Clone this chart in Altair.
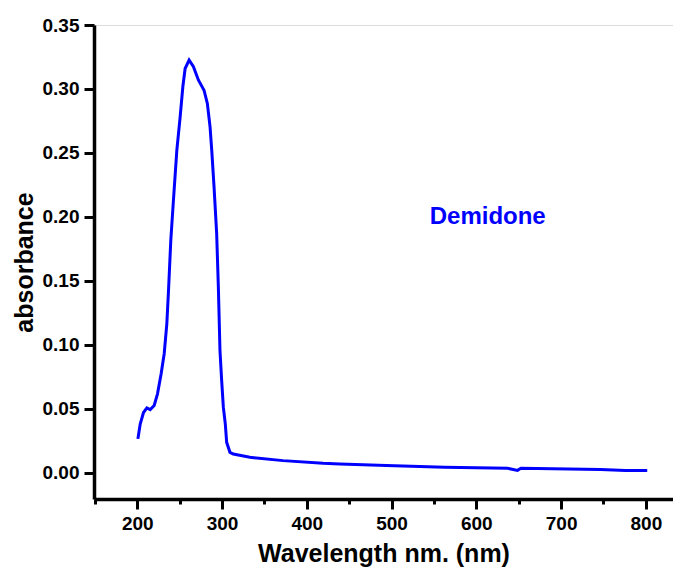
import altair as alt
import pandas as pd

wavelength = [200.8, 203.5, 207.4, 211.4, 215.3, 220.0, 223.9, 228.2, 231.8, 234.9,
              236.9, 239.6, 242.7, 246.7, 250.6, 253.8, 256.5, 261.2, 266.3, 272.1,
              278.8, 282.7, 285.9, 287.9, 290.6, 293.7, 295.7, 297.6, 299.6, 301.6,
              303.9, 305.5, 309.4, 313.3, 332.9, 372.0, 419.2, 439.0, 493.8, 562.4,
              636.9, 648.6, 652.6, 746.7, 776.0, 801.6]
absorbance = [0.0264, 0.038, 0.047, 0.0506, 0.0493, 0.0525, 0.0616, 0.0773, 0.093, 0.1164,
              0.1425, 0.1817, 0.213, 0.252, 0.278, 0.3017, 0.316, 0.3226, 0.3174, 0.307,
              0.299, 0.2887, 0.2704, 0.252, 0.2234, 0.1869, 0.145, 0.0955, 0.072, 0.051,
              0.038, 0.0237, 0.0159, 0.0146, 0.012, 0.0094, 0.0073, 0.0068, 0.0055, 0.0042,
              0.0034, 0.0018, 0.0034, 0.0024, 0.0017, 0.0016]

label_text = ["Demidone"]
label_x = [545]
label_y = [0.2]

x_ticks = [150, 200, 250, 300, 350, 400, 450, 500, 550, 600, 650, 700, 750, 800]
y_ticks = [0.0, 0.025, 0.05, 0.075, 0.1, 0.125, 0.15, 0.175, 0.2, 0.225, 0.25,
           0.275, 0.3, 0.325, 0.35]

df = pd.DataFrame({"wavelength": wavelength, "absorbance": absorbance})
lab = pd.DataFrame({"x": label_x, "y": label_y, "t": label_text})

FONT = "Liberation Sans"

x_scale = alt.Scale(domain=[149, 832], nice=False, zero=False)
y_scale = alt.Scale(domain=[-0.0206, 0.35], nice=False, zero=False)

x_axis = alt.Axis(
    title="Wavelength nm. (nm)",
    values=x_ticks,
    labelExpr="(datum.value % 100 == 0 && datum.value >= 200) ? datum.value : ''",
    tickSize={"condition": {"test": "datum.value % 100 != 0", "value": 5}, "value": 10},
    grid=False,
    domainColor="black", domainWidth=3.5,
    tickColor="black", tickWidth=3,
    labelFont=FONT, labelFontSize=19, labelFontWeight="bold", labelColor="black",
    labelPadding=5,
    titleFont=FONT, titleFontSize=25, titleFontWeight="bold", titleColor="black",
    titlePadding=8,
)
y_axis = alt.Axis(
    title="absorbance",
    values=y_ticks,
    labelExpr="(round(datum.value*1000) % 50 == 0) ? format(datum.value, '.2f') : ''",
    tickSize={"condition": {"test": "round(datum.value*1000) % 50 != 0", "value": 5}, "value": 10},
    grid=False,
    domainColor="black", domainWidth=3.5,
    tickColor="black", tickWidth=3,
    labelFont=FONT, labelFontSize=19, labelFontWeight="bold", labelColor="black",
    labelPadding=5,
    titleFont=FONT, titleFontSize=25, titleFontWeight="bold", titleColor="black",
    titlePadding=5,
)

line = alt.Chart(df).mark_line(color="#0000FF", strokeWidth=3).encode(
    x=alt.X("wavelength:Q", scale=x_scale, axis=x_axis),
    y=alt.Y("absorbance:Q", scale=y_scale, axis=y_axis),
)

text = alt.Chart(lab).mark_text(
    color="#0000FF", font=FONT, fontSize=24, fontWeight="bold",
    align="left", baseline="middle",
).encode(
    x=alt.X("x:Q", scale=x_scale),
    y=alt.Y("y:Q", scale=y_scale),
    text="t:N",
)

chart = (line + text).properties(
    width=579, height=474,
    autosize=alt.AutoSizeParams(type="none"),
    padding={"left": 86, "top": 17, "right": 0, "bottom": 73},
).configure_view(stroke=None).configure(background="white")

chart.save("out.html", embed_options={"renderer": "svg", "actions": False})
